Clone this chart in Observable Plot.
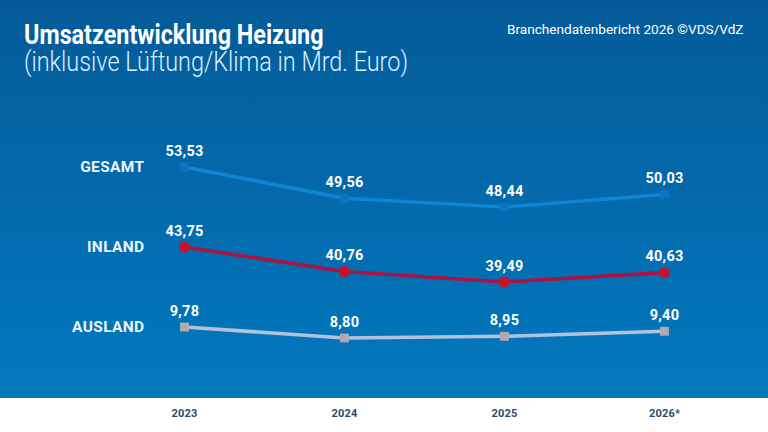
<!DOCTYPE html>
<html><head><meta charset="utf-8">
<script src="https://cdn.jsdelivr.net/npm/d3@7"></script>
<script src="https://cdn.jsdelivr.net/npm/@observablehq/plot@0.6"></script>
<style>
html,body{margin:0;padding:0;width:768px;height:432px;overflow:hidden;background:#fff;font-family:Roboto,sans-serif}
#bg{position:absolute;left:0;top:0;width:768px;height:398px;background:linear-gradient(#045a98,#0279bf)}
#chart{position:absolute;left:0;top:0}
#chart g[aria-label="y-axis tick label"] text{letter-spacing:.35px}
#chart g[aria-label="x-axis tick label"] text{letter-spacing:.2px}
#chart g[aria-label="text"] text{letter-spacing:.25px}
.t{position:absolute;color:#fff;white-space:nowrap;transform-origin:left top;line-height:1}
#title{left:24px;top:21.5px;font-size:27px;line-height:26px;font-weight:700;transform:scaleX(.865)}
#sub{left:24px;top:48.5px;font-size:27px;line-height:26px;font-weight:300;color:#d8f0ff;transform:scaleX(.867)}
#src{left:507px;top:23px;font-size:13.6px;font-weight:400}
</style></head><body>
<div id="bg"></div>
<div id="chart"></div>
<div class="t" id="title">Umsatzentwicklung Heizung</div>
<div class="t" id="sub">(inklusive Lüftung/Klima in Mrd. Euro)</div>
<div class="t" id="src">Branchendatenbericht 2026 ©VDS/VdZ</div>
<script>
const years = ["2023","2024","2025","2026*"];
const gesamt = [53.53,49.56,48.44,50.03];
const inland = [43.75,40.76,39.49,40.63];
const ausland = [9.78,8.80,8.95,9.40];
const rowNames = ["GESAMT","INLAND","AUSLAND"];
const lineColors = ["#0d86d4","#ad1342","#b3c1da"];
const markerColors = ["#0d74c2","#c5122f","#b3a9b0"];
const markerShapes = ["square","circle","square"];
const markerSizes = [5,5.5,5];

const rows = [gesamt,inland,ausland]
  .map((values,i)=>({name:rowNames[i],line:lineColors[i],marker:markerColors[i],symbol:markerShapes[i],r:markerSizes[i],data:values.map((v,j)=>({year:years[j],v}))}));
const de = v => v.toFixed(2).replace(".",",");
const rowTick = new Map(rows.map(r=>[r.data[0].v,r.name]));

document.getElementById("chart").append(Plot.plot({
  width:768,height:432,marginLeft:144,marginRight:104,marginTop:0,marginBottom:34,
  style:{background:"transparent",fontFamily:"Roboto, sans-serif"},
  x:{type:"point",domain:years,range:[184,664],padding:0,label:null},
  // piecewise scale: the three series sit on separate broken-axis bands
  y:{type:"linear",domain:[8.80,9.78,39.49,43.75,48.44,53.53],range:[337.5,326.5,281.5,246.5,206.5,166.5],label:null},
  marks:[
    Plot.axisX({anchor:"bottom",tickSize:0,tickPadding:11,fontSize:11,fontWeight:700,fill:"#2b4a66",label:null}),
    Plot.axisY({anchor:"left",ticks:[...rowTick.keys()],tickFormat:v=>rowTick.get(v),tickSize:0,tickPadding:0,fontSize:15.5,fontWeight:700,fill:"#eaf6ff",label:null}),
    ...rows.flatMap(r=>[
      Plot.line(r.data,{x:"year",y:"v",stroke:r.line,strokeWidth:3.6}),
      Plot.dot(r.data,{x:"year",y:"v",symbol:r.symbol,r:r.r,fill:r.marker,stroke:null}),
      Plot.text(r.data,{x:"year",y:"v",text:d=>de(d.v),dy:-16,fontSize:14.5,fontWeight:700,fill:"#fff"})
    ])
  ]
}));
</script></body></html>
